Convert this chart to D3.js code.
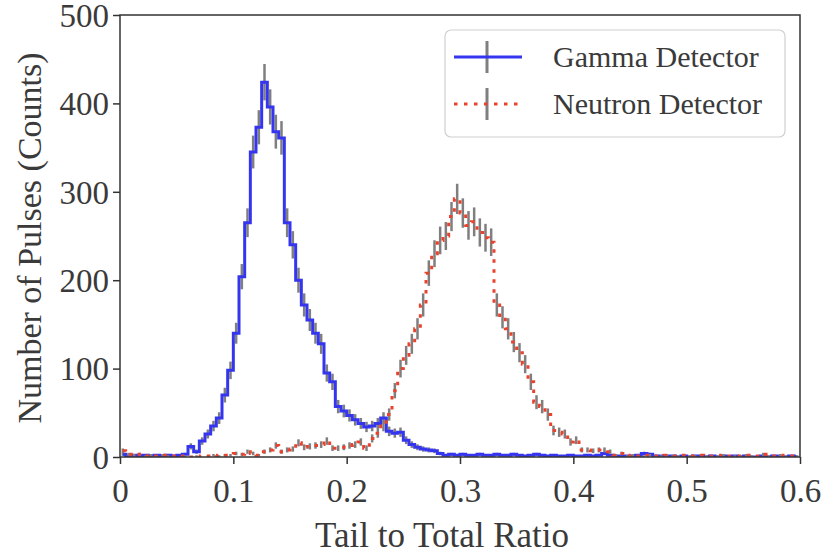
<!DOCTYPE html>
<html lang="en">
    <head>
        <meta charset="utf-8">
        <title>Tail to Total Ratio histogram</title>
        <script type="text/javascript" src="https://cdn.jsdelivr.net/npm/d3@7"></script>
        <style type="text/css">
            body { margin: 0; background: #fff; }
        </style>
    </head>

    <body>
        <script type="text/javascript">
            // Histogram bins: 120 bins of width 0.005 between 0 and 0.6
            var binStart = 0;
            var binWidth = 0.005;

            var gammaCounts = [
                3, 1, 2, 1, 2, 1, 2, 1, 2, 1,
                2, 3, 12, 6, 18, 26, 35, 44, 70, 98,
                140, 204, 265, 345, 373, 424, 396, 368, 361, 265,
                240, 200, 172, 155, 140, 128, 95, 85, 57, 52,
                47, 42, 38, 34, 35, 38, 44, 29, 27, 28,
                19, 14, 11, 9, 8, 7, 4, 2, 3, 2,
                3, 2, 2, 3, 2, 2, 3, 2, 2, 3,
                2, 1, 2, 3, 2, 1, 2, 1, 1, 2,
                1, 1, 2, 1, 2, 4, 2, 1, 1, 1,
                1, 2, 4, 3, 1, 1, 0, 1, 0, 1,
                0, 1, 1, 0, 1, 0, 1, 0, 1, 0,
                1, 0, 0, 1, 0, 1, 0, 0, 1, 0
            ];

            var neutronCounts = [
                7, 3, 2, 3, 1, 2, 1, 2, 1, 1,
                0, 1, 0, 1, 0, 1, 2, 1, 2, 2,
                4, 3, 6, 4, 2, 6, 8, 13, 6, 8,
                9, 16, 11, 12, 13, 14, 18, 10, 10, 11,
                13, 14, 17, 10, 21, 27, 35, 48, 75, 100,
                115, 128, 145, 172, 208, 230, 245, 250, 272, 292,
                276, 262, 266, 254, 248, 243, 172, 158, 145, 130,
                118, 105, 85, 62, 57, 48, 30, 28, 26, 17,
                19, 8, 8, 7, 8, 8, 6, 2, 4, 1,
                2, 1, 1, 2, 1, 1, 2, 1, 1, 2,
                1, 1, 2, 1, 1, 1, 2, 1, 1, 1,
                2, 1, 1, 3, 1, 1, 2, 1, 1, 1
            ];

            var seriesNames = ["Gamma Detector", "Neutron Detector"];
            var xTicks = [0, 0.1, 0.2, 0.3, 0.4, 0.5, 0.6];
            var yTicks = [0, 100, 200, 300, 400, 500];

            var w = 825;
            var h = 556;
            var margin = { top: 15, right: 25, bottom: 99, left: 120 };
            var serif = "'Liberation Serif'";
            var textColor = "#3a3a3a";

            var xScale = d3.scaleLinear()
                            .domain([0, 0.6])
                            .range([margin.left, w - margin.right]);

            var yScale = d3.scaleLinear()
                            .domain([0, 500])
                            .range([h - margin.bottom, margin.top]);

            var svg = d3.select("body")
                        .append("svg")
                        .attr("width", w)
                        .attr("height", h);

            svg.append("defs").append("clipPath")
                .attr("id", "plotClip")
                .append("rect")
                .attr("x", margin.left)
                .attr("y", margin.top)
                .attr("width", w - margin.left - margin.right)
                .attr("height", h - margin.top - margin.bottom);

            // turn counts into points at bin centres
            function toPoints(counts) {
                return counts.map(function(c, i) {
                    return { x: binStart + binWidth * (i + 0.5), y: c };
                });
            }

            var series = [
                { name: seriesNames[0], points: toPoints(gammaCounts), color: "#3535f0", dash: null },
                { name: seriesNames[1], points: toPoints(neutronCounts), color: "#e8432e", dash: "3.5,6.5" }
            ];

            var stepLine = d3.line()
                            .curve(d3.curveStep)
                            .x(function(d) { return xScale(d.x); })
                            .y(function(d) { return yScale(d.y); });

            var plot = svg.append("g").attr("clip-path", "url(#plotClip)");

            series.forEach(function(s) {
                var g = plot.append("g");
                // Poisson error bars, sqrt of the count
                g.selectAll("line")
                    .data(s.points)
                    .enter()
                    .append("line")
                    .attr("x1", function(d) { return xScale(d.x); })
                    .attr("x2", function(d) { return xScale(d.x); })
                    .attr("y1", function(d) { return yScale(d.y - Math.sqrt(d.y)); })
                    .attr("y2", function(d) { return yScale(d.y + Math.sqrt(d.y)); })
                    .attr("stroke", "#7f7f7f")
                    .attr("stroke-width", 2.5);
                g.append("path")
                    .datum(s.points)
                    .attr("d", stepLine)
                    .attr("fill", "none")
                    .attr("stroke", s.color)
                    .attr("stroke-width", 3)
                    .attr("stroke-dasharray", s.dash);
            });

            // Axes
            var xAxis = d3.axisBottom(xScale)
                            .tickValues(xTicks)
                            .tickSize(7)
                            .tickPadding(15)
                            .tickFormat(function(d) { return d === 0 ? "0" : d3.format(".1f")(d); });
            var yAxis = d3.axisLeft(yScale)
                            .tickValues(yTicks)
                            .tickSize(7)
                            .tickPadding(4);

            var gx = svg.append("g")
                        .attr("transform", "translate(0," + (h - margin.bottom) + ")")
                        .call(xAxis);
            var gy = svg.append("g")
                        .attr("transform", "translate(" + margin.left + ",0)")
                        .call(yAxis);

            [gx, gy].forEach(function(g) {
                g.select(".domain").remove();
                g.selectAll(".tick line").attr("stroke", "#333").attr("stroke-width", 1.5);
                g.selectAll(".tick text")
                    .style("font-family", serif)
                    .style("font-size", "33px")
                    .style("fill", textColor);
            });
            gy.selectAll(".tick text").attr("dy", "0.34em");

            // frame
            svg.append("rect")
                .attr("x", margin.left)
                .attr("y", margin.top)
                .attr("width", w - margin.left - margin.right)
                .attr("height", h - margin.top - margin.bottom)
                .attr("fill", "none")
                .attr("stroke", "#333")
                .attr("stroke-width", 1.5);

            // Axis labels
            svg.append("text")
                .attr("x", 442)
                .attr("y", 547)
                .attr("text-anchor", "middle")
                .style("font-family", serif)
                .style("font-size", "35px")
                .style("fill", textColor)
                .text("Tail to Total Ratio");

            svg.append("text")
                .attr("transform", "translate(41,238) rotate(-90)")
                .attr("text-anchor", "middle")
                .style("font-family", serif)
                .style("font-size", "34px")
                .style("fill", textColor)
                .text("Number of Pulses (Counts)");

            // Legend
            var legend = svg.append("g").attr("transform", "translate(445,30)");
            legend.append("rect")
                .attr("width", 340)
                .attr("height", 107)
                .attr("rx", 6)
                .attr("fill", "#fff")
                .attr("stroke", "#d0d0d0")
                .attr("stroke-width", 1.2);

            var items = legend.selectAll("g.item")
                            .data(series)
                            .enter()
                            .append("g")
                            .attr("class", "item")
                            .attr("transform", function(d, i) { return "translate(0," + (27 + i * 47) + ")"; });

            items.append("line")
                .attr("x1", 42).attr("x2", 42)
                .attr("y1", -16).attr("y2", 16)
                .attr("stroke", "#7f7f7f")
                .attr("stroke-width", 3);
            items.append("line")
                .attr("x1", 9).attr("x2", 77)
                .attr("y1", 0).attr("y2", 0)
                .attr("stroke", function(d) { return d.color; })
                .attr("stroke-width", 3)
                .attr("stroke-dasharray", function(d) { return d.dash; });
            items.append("text")
                .attr("x", 108)
                .attr("y", 10)
                .style("font-family", serif)
                .style("font-size", "30px")
                .style("fill", textColor)
                .text(function(d) { return d.name; });
        </script>
    </body>
</html>
